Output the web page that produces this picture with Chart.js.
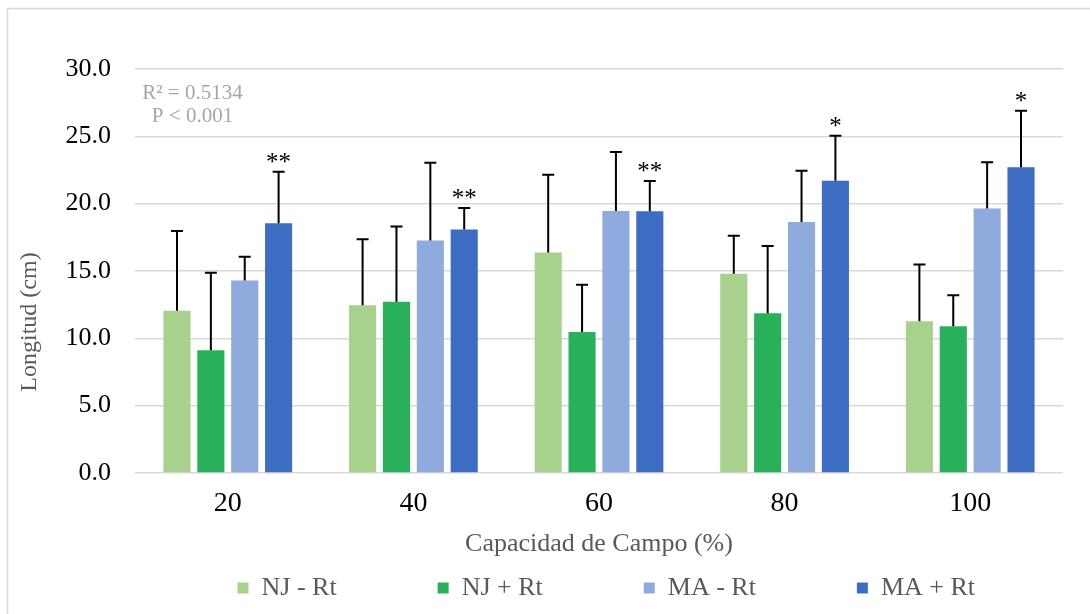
<!DOCTYPE html>
<html><head><meta charset="utf-8">
<script src="https://cdn.jsdelivr.net/npm/chart.js@4.4.1/dist/chart.umd.min.js"></script>
<style>html,body{margin:0;padding:0;background:#fff;}#wrap{width:1090px;height:614px;}</style>
</head><body><div id="wrap"><canvas id="c" width="1090" height="614"></canvas></div>
<script>
// ---- data ----
const categories = ['20', '40', '60', '80', '100'];
const seriesNames = ['NJ - Rt', 'NJ + Rt', 'MA - Rt', 'MA + Rt'];
const njMinus = [12.05, 12.45, 16.38, 14.80, 11.26];
const njMinusErr = [5.92, 4.90, 5.77, 2.82, 4.23];
const njPlus = [9.11, 12.72, 10.47, 11.86, 10.89];
const njPlusErr = [5.76, 5.59, 3.51, 4.99, 2.30];
const maMinus = [14.30, 17.27, 19.45, 18.63, 19.65];
const maMinusErr = [1.76, 5.77, 4.38, 3.81, 3.42];
const maPlus = [18.54, 18.09, 19.43, 21.70, 22.70];
const maPlusErr = [3.83, 1.58, 2.25, 3.34, 4.20];
const significance = ['**', '**', '**', '*', '*'];
const yMin = 0, yMax = 30, yStep = 5;
const annotationLines = ['R\u00B2 = 0.5134', 'P < 0.001'];
const xTitle = 'Capacidad de Campo (%)';
const yTitle = 'Longitud (cm)';

// ---- styling ----
const FONT = "'Liberation Serif', 'Times New Roman', serif";
const colors = ['#a9d18e', '#29b05a', '#8faadc', '#3d6cc3'];
const legendTrailing = [14, 14, 14, 12];

const bgPlugin = {
  id: 'bg',
  beforeDraw(chart) {
    const ctx = chart.ctx;
    ctx.save();
    ctx.fillStyle = '#fff';
    ctx.fillRect(0, 0, chart.width, chart.height);
    ctx.strokeStyle = '#d9d9d9';
    ctx.lineWidth = 1.5;
    ctx.strokeRect(7.5, 8.5, chart.width + 20, chart.height + 20);
    ctx.restore();
  }
};

const errorBarPlugin = {
  id: 'errorBars',
  afterDatasetsDraw(chart) {
    const ctx = chart.ctx;
    const y = chart.scales.y;
    ctx.save();
    ctx.strokeStyle = '#000';
    ctx.lineWidth = 2;
    chart.data.datasets.forEach((ds, di) => {
      const meta = chart.getDatasetMeta(di);
      meta.data.forEach((bar, i) => {
        const top = y.getPixelForValue(ds.data[i] + ds.errors[i]);
        ctx.beginPath();
        ctx.moveTo(bar.x, bar.y);
        ctx.lineTo(bar.x, top);
        ctx.moveTo(bar.x - 6, top);
        ctx.lineTo(bar.x + 6, top);
        ctx.stroke();
        if (ds.marks) {
          ctx.fillStyle = '#000';
          ctx.font = '25px ' + FONT;
          ctx.textAlign = 'center';
          ctx.textBaseline = 'alphabetic';
          ctx.fillText(ds.marks[i], bar.x, top - 2);
        }
      });
    });
    // annotation
    const a = chart.chartArea;
    ctx.fillStyle = '#a6a6a6';
    ctx.font = '21px ' + FONT;
    ctx.textAlign = 'center';
    ctx.textBaseline = 'alphabetic';
    ctx.fillText(annotationLines[0], a.left + 57.5, a.top + 30);
    ctx.fillText(annotationLines[1], a.left + 57.5, a.top + 53);
    ctx.restore();
  }
};

const seriesValues = [njMinus, njPlus, maMinus, maPlus];
const seriesErrors = [njMinusErr, njPlusErr, maMinusErr, maPlusErr];

const datasets = seriesNames.map((name, k) => ({
  label: name,
  data: seriesValues[k],
  errors: seriesErrors[k],
  marks: k === 3 ? significance : null,
  backgroundColor: colors[k],
  borderWidth: 0,
  categoryPercentage: 0.73,
  barPercentage: 0.8
}));

new Chart(document.getElementById('c'), {
  type: 'bar',
  data: { labels: categories, datasets },
  plugins: [bgPlugin, errorBarPlugin],
  options: {
    responsive: false,
    animation: false,
    devicePixelRatio: 1,
    layout: { padding: { left: 0, right: 27, top: 69, bottom: 3 } },
    plugins: {
      tooltip: { enabled: false },
      legend: {
        position: 'bottom',
        align: 'end',
        labels: {
          boxWidth: 11,
          boxHeight: 11,
          padding: 10,
          color: '#595959',
          font: { family: FONT, size: 26 },
          generateLabels(chart) {
            const items = Chart.defaults.plugins.legend.labels.generateLabels(chart);
            items.forEach((it, i) => { it.text = it.text + ' '.repeat(legendTrailing[i]); it.lineWidth = 0; });
            return items;
          }
        }
      }
    },
    scales: {
      x: {
        grid: { display: false, drawTicks: false },
        border: { display: false },
        ticks: { color: '#000', padding: 14, font: { family: FONT, size: 28 } },
        title: { display: true, text: xTitle, color: '#595959', padding: { top: 0, bottom: 5 }, font: { family: FONT, size: 26 } },
        afterFit(scale) { scale.height = 92; }
      },
      y: {
        min: yMin, max: yMax,
        grid: { color: '#d9d9d9', lineWidth: 1.5, drawTicks: false },
        border: { display: false },
        ticks: { stepSize: yStep, color: '#000', padding: 24, font: { family: FONT, size: 26 }, callback: v => Number(v).toFixed(1) },
        title: { display: true, text: yTitle + ' '.repeat(17), color: '#595959', padding: { top: 15, bottom: 0 }, font: { family: FONT, size: 24 } },
        afterFit(scale) { scale.width = 135; }
      }
    }
  }
});
</script>
</body></html>
